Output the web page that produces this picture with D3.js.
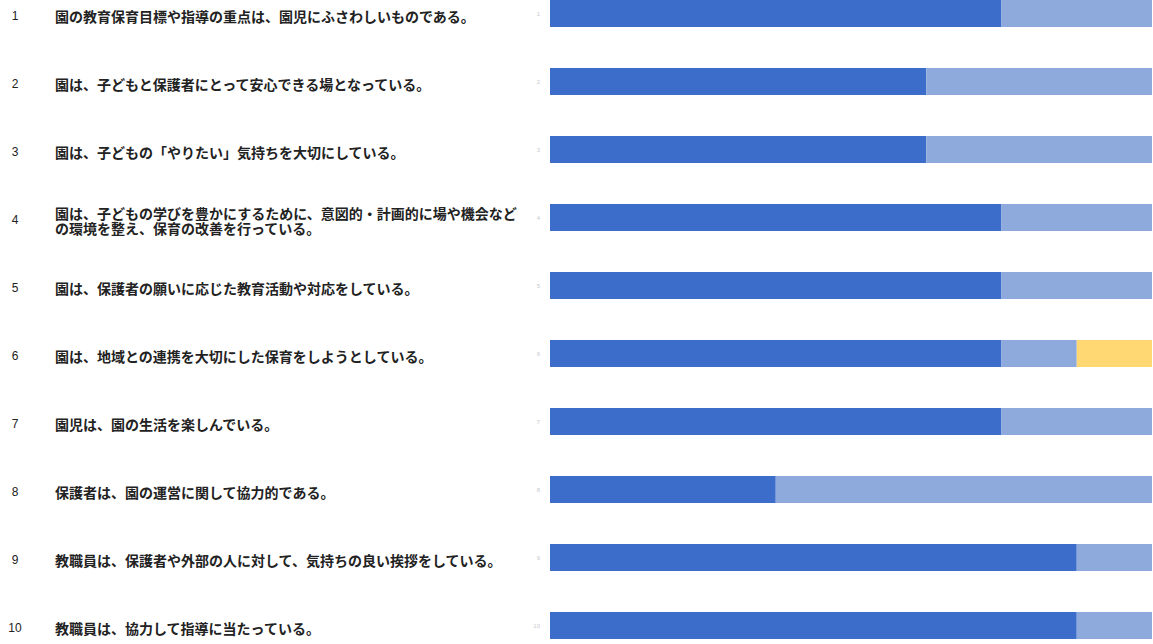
<!DOCTYPE html>
<html>
<head>
<meta charset="utf-8">
<script src="https://cdn.jsdelivr.net/npm/d3@7"></script>
<style>
    body { margin: 0; background: #fff; }
    svg { display: block; }
</style>
</head>
<body>
<div id="chart"></div>
<script>
// question numbers and texts (lines split as in the original)
var itemNos = ['1', '2', '3', '4', '5', '6', '7', '8', '9', '10'];
var itemTexts = [
    ['園の教育保育目標や指導の重点は、園児にふさわしいものである。'],
    ['園は、子どもと保護者にとって安心できる場となっている。'],
    ['園は、子どもの「やりたい」気持ちを大切にしている。'],
    ['園は、子どもの学びを豊かにするために、意図的・計画的に場や機会など', 'の環境を整え、保育の改善を行っている。'],
    ['園は、保護者の願いに応じた教育活動や対応をしている。'],
    ['園は、地域との連携を大切にした保育をしようとしている。'],
    ['園児は、園の生活を楽しんでいる。'],
    ['保護者は、園の運営に関して協力的である。'],
    ['教職員は、保護者や外部の人に対して、気持ちの良い挨拶をしている。'],
    ['教職員は、協力して指導に当たっている。']
];

// answers (number of respondents)
var seriesNames = ['よくあてはまる', 'ややあてはまる', 'あまりあてはまらない'];
var verySeries = [6, 5, 5, 6, 6, 6, 6, 3, 7, 7];
var fairlySeries = [2, 3, 3, 2, 2, 1, 2, 5, 1, 1];
var notSeries = [0, 0, 0, 0, 0, 1, 0, 0, 0, 0];
var totalCount = 8;

var colors = ['#3c6dca', '#8eaadc', '#ffd874'];

var width = 1153;
var height = 644;

var svg = d3.select('#chart')
    .append('svg')
    .attr('width', width)
    .attr('height', height);

var rows = itemNos.map(function(n, i) {
    return { no: n, very: verySeries[i], fairly: fairlySeries[i], not: notSeries[i] };
});

var stack = d3.stack().keys(['very', 'fairly', 'not']);
var layers = stack(rows);

var x = d3.scaleLinear().domain([0, totalCount]).range([550, 1152]);
var y = d3.scalePoint().domain(itemNos).range([13.5, 625.5]);
var barH = 27;

// bars
svg.append('g')
    .selectAll('g')
    .data(layers)
    .join('g')
    .attr('fill', function(d, i) { return colors[i]; })
    .selectAll('rect')
    .data(function(d) { return d; })
    .join('rect')
    .attr('x', function(d) { return x(d[0]); })
    .attr('y', function(d) { return y(d.data.no) - barH / 2; })
    .attr('width', function(d) { return x(d[1]) - x(d[0]); })
    .attr('height', barH);

// tiny faint axis labels next to bars
var yAxis = d3.axisLeft(y).tickSize(0).tickPadding(10);
var axisG = svg.append('g')
    .attr('transform', 'translate(' + x(0) + ',0)')
    .call(yAxis);
axisG.select('.domain').remove();
axisG.selectAll('text')
    .attr('font-size', 6)
    .attr('fill', '#c8c8d0')
    .attr('font-family', 'Liberation Sans, sans-serif');

// question numbers and texts
var labels = svg.append('g')
    .attr('font-family', '"Noto Sans CJK JP", sans-serif')
    .attr('fill', '#222');

itemNos.forEach(function(n, i) {
    var cy = y(n) + 2.5;
    labels.append('text')
        .attr('x', 15)
        .attr('y', cy)
        .attr('text-anchor', 'middle')
        .attr('dominant-baseline', 'central')
        .attr('font-size', 12)
        .attr('font-family', 'Liberation Sans, sans-serif')
        .text(n);

    var lines = itemTexts[i];
    var lh = 15;
    var top = cy - (lines.length - 1) * lh / 2;
    lines.forEach(function(t, j) {
        labels.append('text')
            .attr('x', 55)
            .attr('y', top + j * lh)
            .attr('dominant-baseline', 'central')
            .attr('font-size', 14)
            .attr('font-weight', 'bold')
            .text(t);
    });
});
</script>
</body>
</html>
